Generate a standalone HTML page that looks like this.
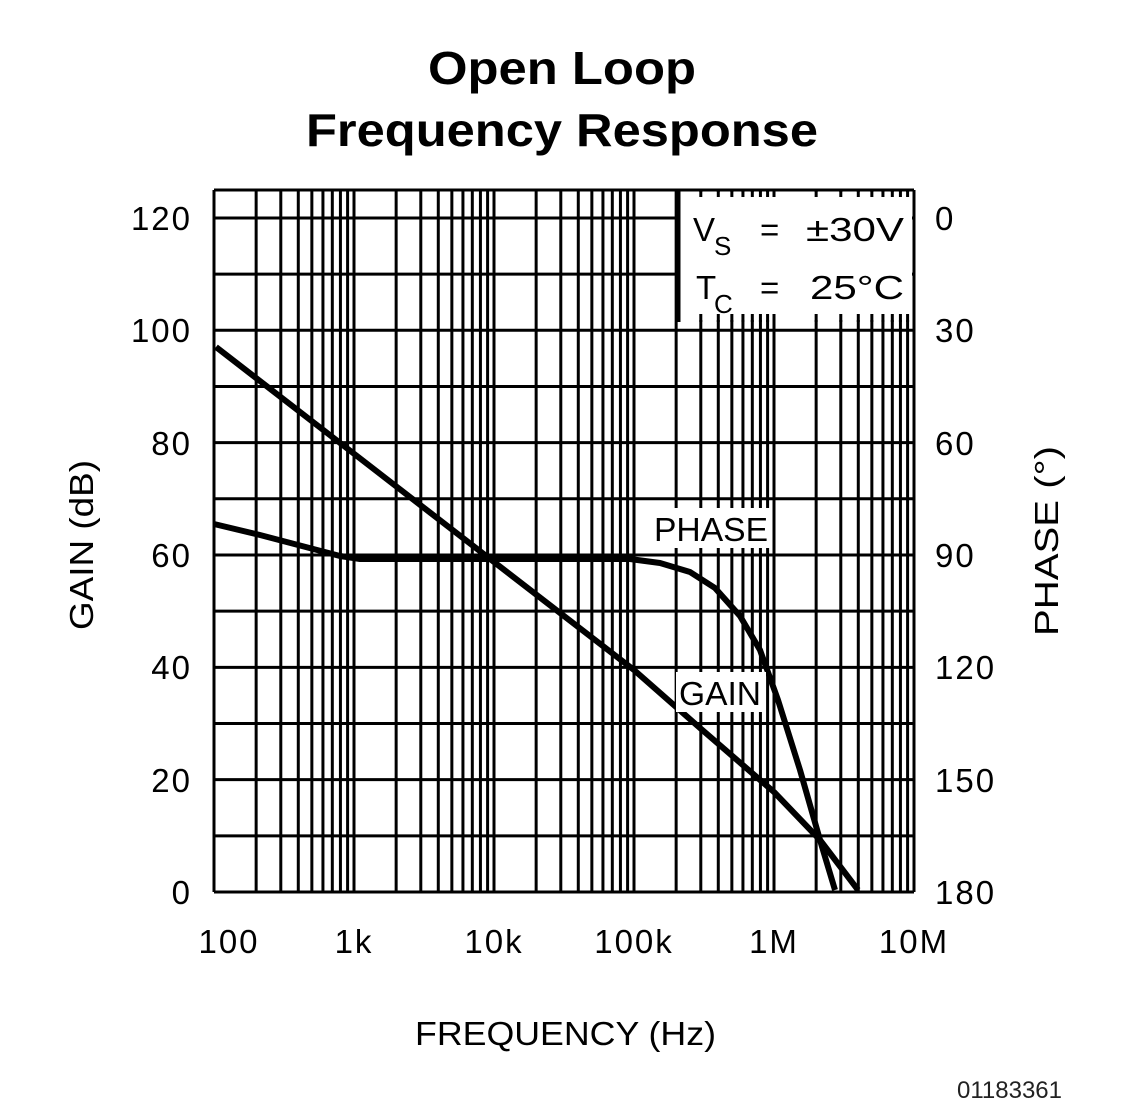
<!DOCTYPE html>
<html><head><style>
body{margin:0;background:#fff;}
svg text{font-family:"Liberation Sans",sans-serif;}
</style></head><body>
<svg width="1124" height="1102" viewBox="0 0 1124 1102" xmlns="http://www.w3.org/2000/svg">
<rect width="1124" height="1102" fill="#fff"/>
<text x="562" y="84" font-size="46" font-weight="bold" text-anchor="middle" textLength="268" lengthAdjust="spacingAndGlyphs">Open Loop</text>
<text x="562" y="146" font-size="46" font-weight="bold" text-anchor="middle" textLength="512" lengthAdjust="spacingAndGlyphs">Frequency Response</text>
<g stroke="#000" stroke-width="3" id="grid"></g>
<rect x="680" y="192" width="232" height="128" fill="#fff"/>
<g stroke="#000" stroke-width="3" id="top"></g>
<script>
var ns="http://www.w3.org/2000/svg";
function L(g,x1,y1,x2,y2){var l=document.createElementNS(ns,'line');l.setAttribute('x1',x1);l.setAttribute('y1',y1);l.setAttribute('x2',x2);l.setAttribute('y2',y2);g.appendChild(l);}
var g=document.getElementById('grid'),t=document.getElementById('top');
for(var d=0;d<5;d++)for(var m=1;m<=10;m++){var x=214+140*(d+Math.log10(m));L(g,x,190,x,892);if(x>681&&x<911){L(t,x,190,x,197);L(t,x,314,x,322);}}
for(var i=0;i<=12;i++){var y=892-56.17*i;L(g,214,y,914,y);}
L(t,214,190,914,190);L(t,679,190,679,322);L(t,914,190,914,322);
</script>
<g font-size="33" fill="#000">
<text x="693" y="241">V</text><text x="714" y="255" font-size="26">S</text>
<text x="760" y="241">=</text><text x="806" y="241" textLength="98" lengthAdjust="spacingAndGlyphs">±30V</text>
<text x="696" y="299">T</text><text x="714" y="313" font-size="26">C</text>
<text x="760" y="299">=</text><text x="810" y="299" textLength="94" lengthAdjust="spacingAndGlyphs">25°C</text>
</g>
<g fill="none" stroke="#000" stroke-width="6" stroke-linejoin="round">
<polyline points="216,347 494,562 634,670 700,728 774,792 820,840 858,890"/>
<polyline points="214,524 260,535 340,556 360,559 630,559 660,563 690,572 715,588 740,616 760,650 778,700 800,770 820,840 835,890"/>
</g>
<rect x="650" y="508" width="122" height="40" fill="#fff"/>
<text x="654" y="541" font-size="33" textLength="114" lengthAdjust="spacingAndGlyphs">PHASE</text>
<rect x="676" y="672" width="90" height="40" fill="#fff"/>
<text x="679" y="705" font-size="33" textLength="82" lengthAdjust="spacingAndGlyphs">GAIN</text>
<g font-size="33" text-anchor="end" letter-spacing="2">
<text x="192" y="230">120</text><text x="192" y="342">100</text><text x="192" y="455">80</text>
<text x="192" y="567">60</text><text x="192" y="679">40</text><text x="192" y="792">20</text><text x="192" y="904">0</text>
</g>
<g font-size="33" letter-spacing="2">
<text x="935" y="230">0</text><text x="935" y="342">30</text><text x="935" y="455">60</text>
<text x="935" y="567">90</text><text x="935" y="679">120</text><text x="935" y="792">150</text><text x="935" y="904">180</text>
</g>
<g font-size="33" text-anchor="middle" letter-spacing="2">
<text x="229" y="953">100</text><text x="354" y="953">1k</text><text x="494" y="953">10k</text>
<text x="634" y="953">100k</text><text x="774" y="953">1M</text><text x="914" y="953">10M</text>
</g>
<text x="415" y="1045" font-size="33" textLength="301" lengthAdjust="spacingAndGlyphs">FREQUENCY (Hz)</text>
<text transform="translate(93,630) rotate(-90)" font-size="33" textLength="170" lengthAdjust="spacingAndGlyphs">GAIN (dB)</text>
<text transform="translate(1058,636) rotate(-90)" font-size="33" textLength="190" lengthAdjust="spacingAndGlyphs">PHASE (°)</text>
<text x="1062" y="1098" font-size="24" text-anchor="end" fill="#222">01183361</text>
</svg>
</body></html>
